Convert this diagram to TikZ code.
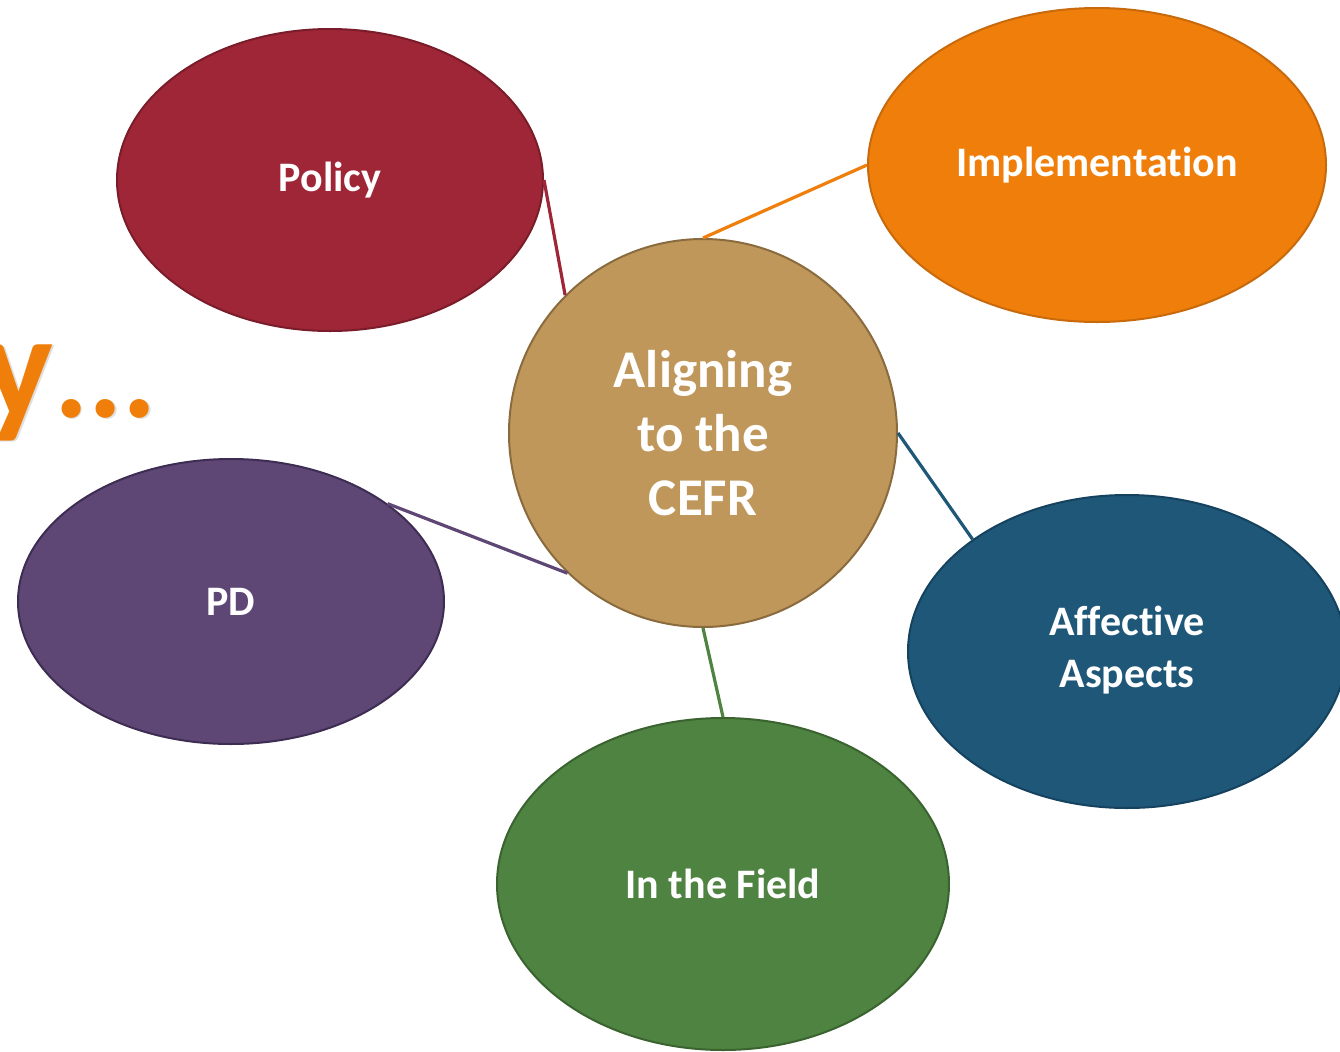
\documentclass[tikz,border=0pt]{standalone}
\usepackage{fontspec}
\setmainfont{Carlito}[Ligatures=NoCommon]
\usetikzlibrary{shapes.geometric}
\definecolor{polred}{HTML}{9E2636}
\definecolor{polredd}{HTML}{7A1C29}
\definecolor{implor}{HTML}{EF7F0A}
\definecolor{implord}{HTML}{C8690C}
\definecolor{centan}{HTML}{C0975B}
\definecolor{centand}{HTML}{8A6B3E}
\definecolor{pdpur}{HTML}{5E4775}
\definecolor{pdpurd}{HTML}{3E2D52}
\definecolor{fldgrn}{HTML}{4F8341}
\definecolor{fldgrnd}{HTML}{3A6330}
\definecolor{affblu}{HTML}{1F5778}
\definecolor{affblud}{HTML}{15425E}
\tikzset{
  bubble/.style={ellipse, inner sep=0pt, line width=1pt, text=white,
    font=\bfseries\fontsize{21}{26}\selectfont, align=center},
  link/.style={line width=1.6pt},
  ttly/.style={anchor=base east, inner sep=0pt, font=\bfseries\fontsize{75}{75}\selectfont},
  ttld/.style={anchor=base west, inner sep=0pt, font=\bfseries\fontsize{64}{64}\selectfont},
}
\begin{document}
\begin{tikzpicture}[x=0.5pt,y=-0.5pt]
\path[use as bounding box] (0,0) rectangle (1340,1051);
\clip (0,0) rectangle (1340,1051);
% partial title text
\node[ttly, text=gray!25] (ttlysh) at (55.5,418.5) {y};
\node[ttld, text=gray!25] (ttldsh) at (55.5,418.5) {...};
\node[ttly, text=implor] (ttly) at (54,417) {y};
\node[ttld, text=implor] (ttld) at (54,417) {...};
% nodes
\node[bubble, fill=polred, draw=polredd, minimum width=213pt, minimum height=151pt] (policy) at (330,180) {\raisebox{-2pt}{Policy}};
\node[bubble, fill=implor, draw=implord, minimum width=229pt, minimum height=157pt] (impl) at (1097,165) {\raisebox{-2pt}{Implementation}};
\node[bubble, fill=pdpur, draw=pdpurd, minimum width=213pt, minimum height=142.5pt] (pd) at (231,601.5) {\raisebox{-1pt}{PD}};
\node[bubble, fill=fldgrn, draw=fldgrnd, minimum width=226pt, minimum height=166pt] (field) at (723,884) {\raisebox{-1.5pt}{In the Field}};
\node[bubble, fill=affblu, draw=affblud, minimum width=219pt, minimum height=156.5pt] (aff) at (1127,651.5) {\raisebox{-2pt}{\begin{tabular}{@{}c@{}}Affective\\Aspects\end{tabular}}};
\node[circle, inner sep=0pt, minimum size=194pt, fill=centan, draw=centand, line width=1pt, text=white,
  font=\bfseries\fontsize{26.5}{32}\selectfont, align=center] (cefr) at (703,433) {Aligning\\to the\\CEFR};
% connectors
\draw[link, draw=polred] (policy.east) -- (cefr.135);
\draw[link, draw=implor] (impl.west) -- (cefr.north);
\draw[link, draw=affblu] (cefr.east) -- (aff.144);
\draw[link, draw=fldgrn] (cefr.south) -- (field.north);
\draw[link, draw=pdpur] (pd.32.5) -- (cefr.226);
\end{tikzpicture}
\end{document}
